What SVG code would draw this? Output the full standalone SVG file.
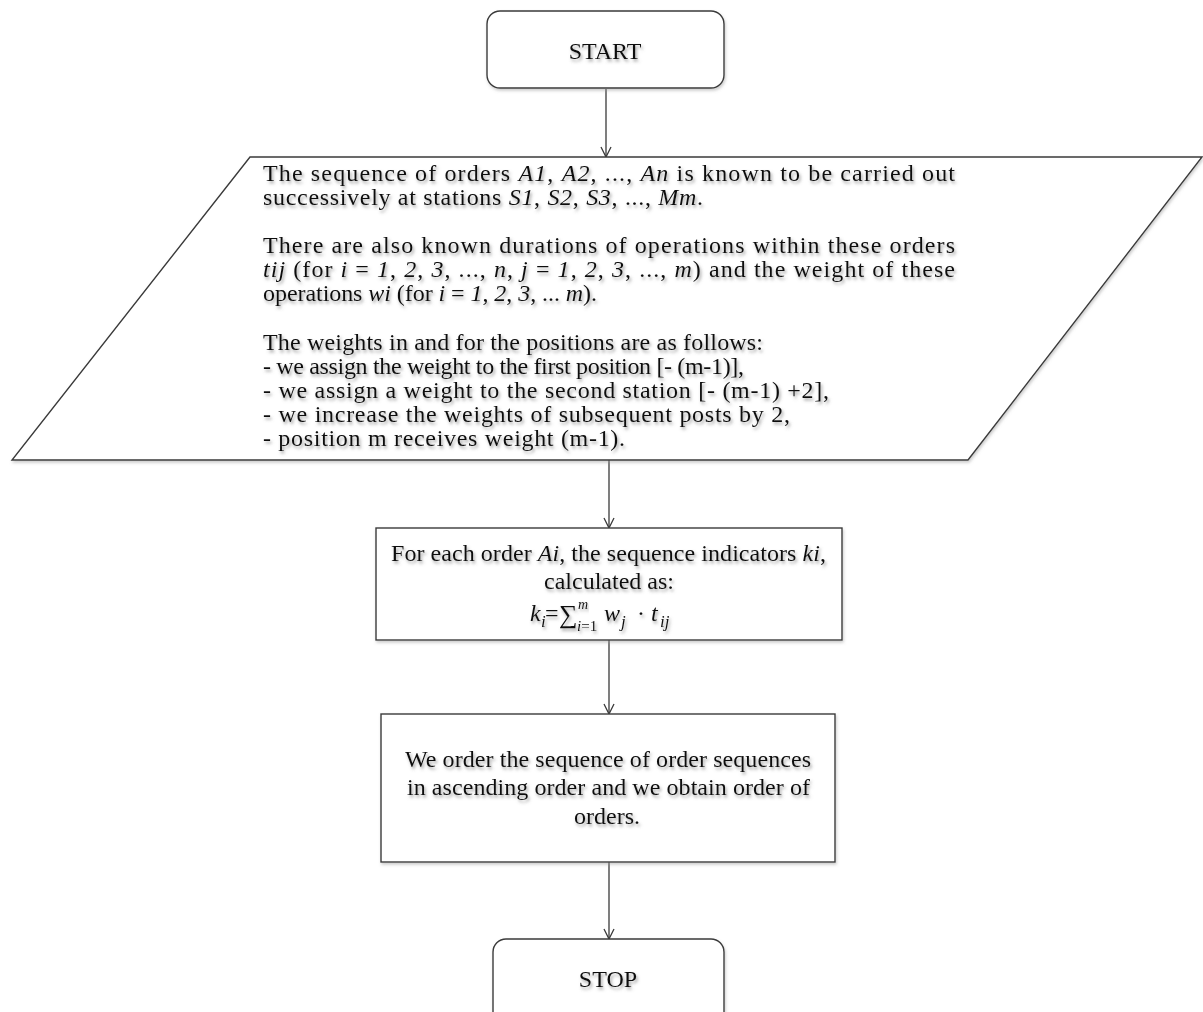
<svg xmlns="http://www.w3.org/2000/svg" width="1203" height="1012" viewBox="0 0 1203 1012">
<style>
.shape{fill:#fff;stroke:#3a3a3a;stroke-width:1.4}
.t{font-family:"Liberation Serif","Times New Roman",serif;font-size:24px;fill:#111;filter:url(#ts)}
.c{text-anchor:middle}
.i{font-style:italic}
.s{font-size:17px}
.conn{stroke:#3a3a3a;stroke-width:1.3;fill:none;marker-end:url(#ah)}
</style>
<defs>
<filter id="ts" x="-5%" y="-30%" width="110%" height="170%">
<feDropShadow dx="1.5" dy="2.5" stdDeviation="1.4" flood-color="#666" flood-opacity="0.6"/>
</filter>
<filter id="ss" x="-5%" y="-5%" width="110%" height="115%">
<feDropShadow dx="1" dy="2" stdDeviation="1.5" flood-color="#999" flood-opacity="0.5"/>
</filter>
<marker id="ah" viewBox="0 0 12 12" refX="11" refY="6" markerWidth="12" markerHeight="12" markerUnits="userSpaceOnUse" orient="auto">
<path d="M1,1 L11,6 L1,11" fill="none" stroke="#3a3a3a" stroke-width="1.3"/>
</marker>
</defs>

<g id="connectors">
<line class="conn" x1="606" y1="89" x2="606" y2="157"/>
<line class="conn" x1="609" y1="460" x2="609" y2="528"/>
<line class="conn" x1="609" y1="640" x2="609" y2="714"/>
<line class="conn" x1="609" y1="862" x2="609" y2="939"/>
</g>

<g id="start">
<rect class="shape" filter="url(#ss)" x="487" y="11" width="237" height="77" rx="13"/>
<text class="t c" x="605" y="59">START</text>
</g>

<g id="input">
<polygon class="shape" filter="url(#ss)" points="250,157 1202,157 968,460 12,460"/>
<text class="t" x="263" y="181" textLength="692" lengthAdjust="spacing">The sequence of orders <tspan class="i">A1</tspan>, <tspan class="i">A2</tspan>, ..., <tspan class="i">An</tspan> is known to be carried out</text>
<text class="t" x="263" y="205" textLength="440" lengthAdjust="spacing">successively at stations <tspan class="i">S1</tspan>, <tspan class="i">S2</tspan>, <tspan class="i">S3</tspan>, ..., <tspan class="i">Mm</tspan>.</text>
<text class="t" x="263" y="253" textLength="692" lengthAdjust="spacing">There are also known durations of operations within these orders</text>
<text class="t" x="263" y="277" textLength="692" lengthAdjust="spacing"><tspan class="i">tij</tspan> (for <tspan class="i">i</tspan> = <tspan class="i">1</tspan>, <tspan class="i">2</tspan>, <tspan class="i">3</tspan>, ..., <tspan class="i">n</tspan>, <tspan class="i">j</tspan> = <tspan class="i">1</tspan>, <tspan class="i">2</tspan>, <tspan class="i">3</tspan>, ..., <tspan class="i">m</tspan>) and the weight of these</text>
<text class="t" x="263" y="301" textLength="334" lengthAdjust="spacing">operations <tspan class="i">wi</tspan> (for <tspan class="i">i</tspan> = <tspan class="i">1</tspan>, <tspan class="i">2</tspan>, <tspan class="i">3</tspan>, ... <tspan class="i">m</tspan>).</text>
<text class="t" x="263" y="350" textLength="500" lengthAdjust="spacing">The weights in and for the positions are as follows:</text>
<text class="t" x="263" y="374" textLength="481" lengthAdjust="spacing">- we assign the weight to the first position [- (m-1)],</text>
<text class="t" x="263" y="398" textLength="566" lengthAdjust="spacing">- we assign a weight to the second station [- (m-1) +2],</text>
<text class="t" x="263" y="422" textLength="527" lengthAdjust="spacing">- we increase the weights of subsequent posts by 2,</text>
<text class="t" x="263" y="446" textLength="362" lengthAdjust="spacing">- position m receives weight (m-1).</text>
</g>

<g id="compute">
<rect class="shape" filter="url(#ss)" x="376" y="528" width="466" height="112"/>
<text class="t" x="391" y="561" textLength="435" lengthAdjust="spacing">For each order <tspan class="i">Ai</tspan>, the sequence indicators <tspan class="i">ki</tspan>,</text>
<text class="t c" x="609" y="589">calculated as:</text>
<text class="t" x="530" y="621"><tspan class="i">k</tspan><tspan class="i s" x="541" y="627">i</tspan><tspan x="545" y="621">=</tspan></text>
<text class="t" x="559" y="623" style="font-size:26px">∑</text>
<text class="t i" x="578" y="609" style="font-size:14px">m</text>
<text class="t i" x="577" y="631" style="font-size:15px">i<tspan font-style="normal">=1</tspan></text>
<text class="t" x="604" y="621"><tspan class="i">w</tspan><tspan class="i s" x="621" y="627">j</tspan><tspan x="637" y="621">·</tspan><tspan class="i" x="651" y="621">t</tspan><tspan class="i s" x="660" y="627">ij</tspan></text>
</g>

<g id="sort">
<rect class="shape" filter="url(#ss)" x="381" y="714" width="454" height="148"/>
<text class="t" x="405" y="767" textLength="406" lengthAdjust="spacing">We order the sequence of order sequences</text>
<text class="t" x="407" y="795" textLength="403" lengthAdjust="spacing">in ascending order and we obtain order of</text>
<text class="t c" x="607" y="824">orders.</text>
</g>

<g id="stop">
<rect class="shape" filter="url(#ss)" x="493" y="939" width="231" height="90" rx="13"/>
<text class="t c" x="608" y="987">STOP</text>
</g>
</svg>
